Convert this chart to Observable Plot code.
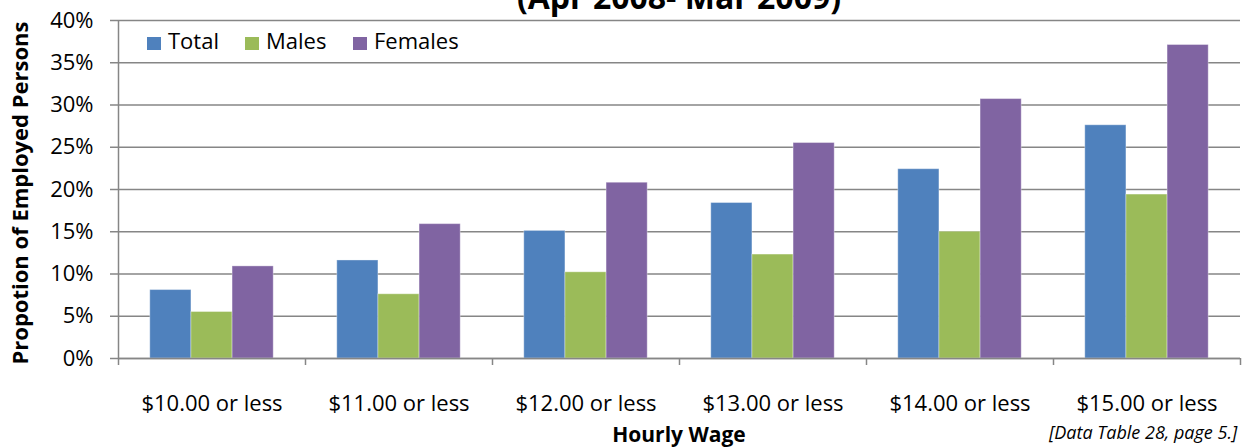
<!DOCTYPE html>
<html>
<head>
<meta charset="utf-8">
<script src="https://cdn.jsdelivr.net/npm/d3@7"></script>
<script src="https://cdn.jsdelivr.net/npm/@observablehq/plot@0.6"></script>
<style>
  html, body { margin: 0; padding: 0; background: #fff; }
  #wrap { position: relative; width: 1246px; height: 447px; overflow: hidden; font-family: "Open Sans", sans-serif; color: #000; }
  #chart { position: absolute; left: 0; top: 0; }
  .abs { position: absolute; white-space: nowrap; }
  .title { left: 118px; width: 1122px; text-align: center; top: -19px; font: bold 32px/32px "Open Sans"; }
  .ylab { left: 19px; top: 193px; transform: translate(-50%, -50%) rotate(-90deg); font: bold 22px/22px "Open Sans"; }
  .xlab { left: 118px; width: 1122px; text-align: center; top: 424px; font: bold 21px/21px "Open Sans"; }
  .cap { left: 1049px; top: 423px; font: italic 18px/19px "Open Sans"; }
  .lg { top: 29px; font: 22px/22px "Open Sans"; }
  .sw { display: inline-block; width: 14px; height: 13px; margin-right: 7px; vertical-align: -1px; }
</style>
</head>
<body>
<div id="wrap">
  <div id="chart"></div>
</div>
<script>
const categories = ["$10.00 or less", "$11.00 or less", "$12.00 or less", "$13.00 or less", "$14.00 or less", "$15.00 or less"];
const seriesNames = ["Total", "Males", "Females"];
const totalValues = [8.1, 11.6, 15.1, 18.4, 22.4, 27.6];
const malesValues = [5.5, 7.6, 10.2, 12.3, 15.0, 19.4];
const femalesValues = [10.9, 15.9, 20.8, 25.5, 30.7, 37.1];
const yTicks = [0, 5, 10, 15, 20, 25, 30, 35, 40];
const seriesColors = ["#4F81BD", "#9BBB59", "#8064A2"];

const valuesBySeries = [totalValues, malesValues, femalesValues];
const rows = categories.flatMap((cat, i) =>
  seriesNames.map((series, j) => ({cat, i, series, j, value: valuesBySeries[j][i]}))
);

const groupStart = 0.17, barW = 0.22;
const gray = "#868686";

const chart = Plot.plot({
  width: 1246,
  height: 447,
  marginLeft: 118,
  marginRight: 6,
  marginTop: 20,
  marginBottom: 89,
  style: {fontFamily: "Open Sans", fontSize: "22px", color: "#000", background: "transparent", overflow: "visible"},
  x: {domain: [0, categories.length]},
  y: {domain: [0, 40]},
  color: {domain: seriesNames, range: seriesColors},
  marks: [
    Plot.gridY(yTicks, {stroke: gray, strokeOpacity: 1, strokeWidth: 1.5}),
    Plot.rect(rows, {
      x1: d => d.i + groupStart + barW * d.j,
      x2: d => d.i + groupStart + barW * (d.j + 1),
      y1: 0,
      y2: "value",
      fill: "series",
      stroke: "#ffffff",
      strokeOpacity: 0.35,
      strokeWidth: 1
    }),
    Plot.ruleX([0], {stroke: gray, strokeWidth: 1.5}),
    Plot.ruleY([0], {stroke: gray, strokeWidth: 1.5}),
    Plot.axisY(yTicks, {tickSize: 8, tickPadding: 17, tickFormat: d => d + "%", stroke: gray, strokeWidth: 1.5, strokeOpacity: 1, fontSize: 22, label: null}),
    Plot.axisX(d3.range(categories.length + 1), {tickSize: 7, tickFormat: () => "", stroke: gray, strokeWidth: 1.5, strokeOpacity: 1, label: null}),
    Plot.axisX(categories.map((c, i) => i + 0.5), {tickSize: 0, tickPadding: 37, tickFormat: d => categories[Math.floor(d)], fontSize: 22, label: null})
  ]
});
document.getElementById("chart").appendChild(chart);

const wrap = document.getElementById("wrap");
function addDiv(cls, html) {
  const el = document.createElement("div");
  el.className = "abs " + cls;
  el.innerHTML = html;
  wrap.appendChild(el);
  return el;
}
addDiv("title", "(Apr 2008- Mar 2009)");
addDiv("ylab", "Propotion of Employed Persons");
addDiv("xlab", "Hourly Wage");
addDiv("cap", "[Data Table 28, page 5.]");
const legendLefts = [147, 245, 353];
seriesNames.forEach((s, j) => {
  const el = addDiv("lg", `<span class="sw" style="background:${seriesColors[j]}"></span>${s}`);
  el.style.left = legendLefts[j] + "px";
});
</script>
</body>
</html>
